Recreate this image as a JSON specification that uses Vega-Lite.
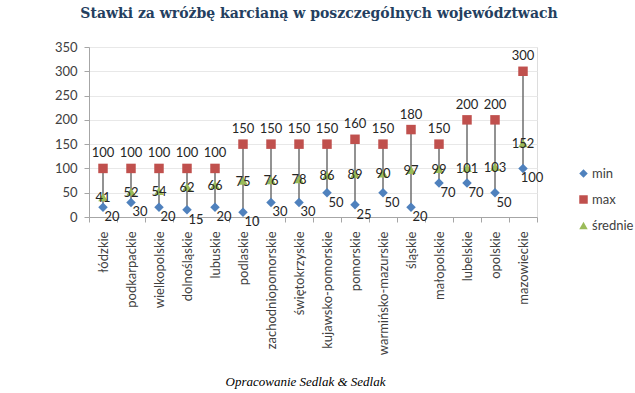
{
  "$schema": "https://vega.github.io/schema/vega-lite/v6.json",
  "autosize": {"type": "none"},
  "width": 448,
  "height": 170,
  "padding": {"left": 89, "top": 47, "right": 98, "bottom": 176},
  "background": "white",
  "config": {
    "axisY": {
      "title": null,
      "values": [0, 50, 100, 150, 200, 250, 300, 350],
      "labelOverlap": false,
      "labelFont": "Lato",
      "labelFontSize": 13,
      "labelColor": "#404040",
      "labelPadding": 7,
      "tickSize": 5,
      "tickColor": "#A6A6A6",
      "domainColor": "#A6A6A6",
      "gridColor": "#E8E8E8"
    }
  },
  "title": {
    "text": "Stawki za wróżbę karcianą w poszczególnych województwach",
    "font": "DejaVu Serif",
    "fontSize": 14,
    "fontWeight": "bold",
    "color": "#243F60",
    "anchor": "middle",
    "dx": 6,
    "offset": 20
  },
  "data": {
    "values": [
      {"woj": "łódzkie", "min": 20, "max": 100, "średnie": 41},
      {"woj": "podkarpackie", "min": 30, "max": 100, "średnie": 52},
      {"woj": "wielkopolskie", "min": 20, "max": 100, "średnie": 54},
      {"woj": "dolnośląskie", "min": 15, "max": 100, "średnie": 62},
      {"woj": "lubuskie", "min": 20, "max": 100, "średnie": 66},
      {"woj": "podlaskie", "min": 10, "max": 150, "średnie": 75},
      {"woj": "zachodniopomorskie", "min": 30, "max": 150, "średnie": 76},
      {"woj": "świętokrzyskie", "min": 30, "max": 150, "średnie": 78},
      {"woj": "kujawsko-pomorskie", "min": 50, "max": 150, "średnie": 86},
      {"woj": "pomorskie", "min": 25, "max": 160, "średnie": 89},
      {"woj": "warmińsko-mazurskie", "min": 50, "max": 150, "średnie": 90},
      {"woj": "śląskie", "min": 20, "max": 180, "średnie": 97},
      {"woj": "małopolskie", "min": 70, "max": 150, "średnie": 99},
      {"woj": "lubelskie", "min": 70, "max": 200, "średnie": 101},
      {"woj": "opolskie", "min": 50, "max": 200, "średnie": 103},
      {"woj": "mazowieckie", "min": 100, "max": 300, "średnie": 152}
    ]
  },
  "encoding": {
    "x": {
      "field": "woj",
      "type": "nominal",
      "sort": null,
      "scale": {"paddingInner": 0, "paddingOuter": 0},
      "axis": {
        "title": "Opracowanie Sedlak & Sedlak",
        "titleFont": "Liberation Serif",
        "titleFontStyle": "italic",
        "titleFontWeight": "normal",
        "titleFontSize": 13,
        "titleColor": "#000000",
        "titleX": 216,
        "titleY": 168,
        "titleBaseline": "alphabetic",
        "titleAnchor": "middle",
        "labelAngle": -90,
        "labelFont": "Lato",
        "labelFontSize": 13,
        "labelColor": "#404040",
        "labelPadding": 9,
        "tickBand": "extent",
        "tickSize": 5,
        "tickColor": "#A6A6A6",
        "domainColor": "#A6A6A6",
        "grid": false
      }
    }
  },
  "layer": [
    {
      "mark": {"type": "rule", "color": "#6E6E6E", "strokeWidth": 1.5},
      "encoding": {
        "y": {
          "field": "min",
          "type": "quantitative",
          "scale": {"domain": [0, 350], "nice": false},
          "axis": {"values": [0, 50, 100, 150, 200, 250, 300, 350], "title": null}
        },
        "y2": {"field": "max"}
      }
    },
    {
      "transform": [{"fold": ["min", "max", "średnie"], "as": ["seria", "wartosc"]}],
      "mark": {"type": "point", "filled": true, "opacity": 1, "size": 90},
      "encoding": {
        "y": {"field": "wartosc", "type": "quantitative", "axis": {"values": [0, 50, 100, 150, 200, 250, 300, 350], "title": null}},
        "shape": {
          "field": "seria",
          "type": "nominal",
          "scale": {"domain": ["min", "max", "średnie"], "range": ["diamond", "square", "triangle-up"]}
        },
        "color": {
          "field": "seria",
          "type": "nominal",
          "scale": {"domain": ["min", "max", "średnie"], "range": ["#4F81BD", "#C0504D", "#9BBB59"]},
          "legend": {
            "title": null,
            "orient": "none",
            "legendX": 488,
            "legendY": 120,
            "padding": 0,
            "symbolSize": 72,
            "labelFont": "Lato",
            "labelFontSize": 13,
            "labelColor": "#404040",
            "rowPadding": 11,
            "labelOffset": 2,
            "symbolOpacity": 1
          }
        }
      }
    },
    {
      "mark": {"type": "text", "font": "Lato", "fontSize": 13, "color": "#262626", "dx": 9, "dy": 10},
      "encoding": {"y": {"field": "min", "type": "quantitative", "axis": {"values": [0, 50, 100, 150, 200, 250, 300, 350], "title": null}}, "text": {"field": "min"}}
    },
    {
      "mark": {"type": "text", "font": "Lato", "fontSize": 13, "color": "#262626", "dy": -15},
      "encoding": {"y": {"field": "max", "type": "quantitative", "axis": {"values": [0, 50, 100, 150, 200, 250, 300, 350], "title": null}}, "text": {"field": "max"}}
    },
    {
      "mark": {"type": "text", "font": "Lato", "fontSize": 13, "color": "#262626", "dy": 1},
      "encoding": {"y": {"field": "średnie", "type": "quantitative", "axis": {"values": [0, 50, 100, 150, 200, 250, 300, 350], "title": null}}, "text": {"field": "średnie"}}
    }
  ]
}
